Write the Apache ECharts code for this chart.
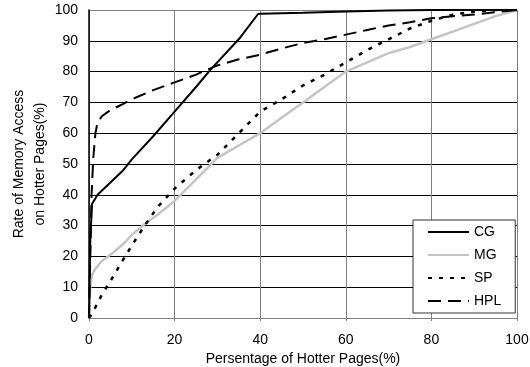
<!DOCTYPE html>
<html>
<head>
<meta charset="utf-8">
<script src="https://cdn.jsdelivr.net/npm/echarts@6/dist/echarts.min.js"></script>
<style>
  html, body { margin: 0; padding: 0; background: #fff; }
  #chart { width: 530px; height: 367px; }
</style>
</head>
<body>
<div id="chart"></div>
<script>
// values (x = % of hotter pages, y = % of memory access)
const cgX = [0, 0.3, 0.7, 2, 5, 8, 10, 15, 20, 25, 28.3, 35.3, 39.5, 40, 50, 60, 70, 80, 100]
const cgY = [0, 25, 37, 40, 44, 48, 51.5, 59, 67, 75, 80.5, 91, 98.7, 98.8, 99.1, 99.5, 99.8, 100, 100]

const mgX = [0, 0.3, 0.7, 1.5, 3, 5, 8, 10, 13, 16, 20, 25, 30, 35, 40, 45, 50, 55, 60, 65, 70, 75, 80, 85, 90, 95, 100]
const mgY = [0, 10, 14, 16, 18.5, 20.5, 24, 27, 30.5, 33.5, 38, 45, 52, 56, 60, 65, 70, 75, 80, 83, 86, 88, 90.5, 93, 95.5, 98, 100]

const spX = [0, 1, 2, 3, 5, 8, 10, 13, 16, 20, 25, 30, 35, 40, 45, 50, 55, 60, 65, 70, 75, 80, 85, 90, 95, 100]
const spY = [0, 2, 5, 7.5, 12, 19, 23.5, 30, 36, 42, 48, 53, 60, 67, 71, 75.5, 79, 83, 87, 90.5, 94, 96.5, 98.5, 99.5, 100, 100]

const hplX = [0, 0.3, 0.6, 1, 1.5, 2, 3, 5, 8, 10, 15, 20, 25, 30, 35, 40, 45, 50, 55, 60, 65, 70, 75, 80, 85, 90, 95, 100]
const hplY = [0, 20, 40, 52, 60, 63.5, 65.5, 67.5, 69.5, 71, 74, 76.5, 79, 82, 84, 85.5, 87.5, 89.3, 90.5, 92, 93.5, 95, 96, 97.3, 98, 98.5, 99.3, 100]

const xTicks = [0, 20, 40, 60, 80, 100]
const yTicks = [0, 10, 20, 30, 40, 50, 60, 70, 80, 90, 100]

const pairs = (xs, ys) => xs.map((x, i) => [x, ys[i]])
const font = 'Liberation Sans'

const chart = echarts.init(document.getElementById('chart'))
const option = {
  animation: false,
  backgroundColor: '#fff',
  textStyle: { fontFamily: font, color: '#000' },
  grid: { left: 89, right: 13, top: 10, bottom: 49, outerBoundsMode: 'none' },
  legend: {
    orient: 'vertical',
    left: 413,
    top: 220,
    padding: [5, 14, 5, 14],
    itemWidth: 41,
    itemHeight: 14,
    itemGap: 9,
    backgroundColor: '#fff',
    borderColor: '#333',
    borderWidth: 1,
    borderRadius: 0,
    // hide the symbol the legend puts on line icons, keep the line itself
    itemStyle: { color: 'rgba(0,0,0,0)', borderColor: 'rgba(0,0,0,0)', borderWidth: 0 },
    textStyle: { fontSize: 14, color: '#000', fontFamily: font },
    data: ['CG', 'MG', 'SP', 'HPL']
  },
  xAxis: {
    type: 'value',
    min: 0,
    max: 100,
    interval: 20,
    name: 'Persentage of Hotter Pages(%)',
    nameLocation: 'middle',
    nameGap: 34,
    nameMoveOverlap: false,
    nameTextStyle: { fontSize: 14, color: '#000' },
    axisLine: { lineStyle: { color: '#808080', width: 1 } },
    axisTick: { show: true, length: 3, inside: false, lineStyle: { color: '#808080' } },
    axisLabel: { fontSize: 14, color: '#000', margin: 15,
      formatter: v => xTicks.includes(v) ? String(v) : '' },
    splitLine: { show: true, lineStyle: { color: '#808080', width: 1 } }
  },
  yAxis: {
    type: 'value',
    min: 0,
    max: 100,
    interval: 10,
    name: 'Rate of Memory Access\non Hotter Pages(%)',
    nameLocation: 'middle',
    nameRotate: 90,
    nameGap: 38,
    nameMoveOverlap: false,
    nameTextStyle: { fontSize: 14, color: '#000', lineHeight: 21 },
    axisLine: { show: true, lineStyle: { color: '#000', width: 1.5 } },
    axisTick: { show: false },
    axisLabel: { fontSize: 14, color: '#000', margin: 11,
      formatter: v => yTicks.includes(v) ? String(v) : '' },
    splitLine: {
      show: true,
      lineStyle: {
        color: ['#808080', '#000', '#000', '#000', '#000', '#000', '#000', '#000', '#000', '#000', '#808080'],
        width: 1
      }
    }
  },
  series: [
    {
      name: 'CG', type: 'line', symbol: 'none', z: 4,
      lineStyle: { color: '#000', width: 2 },
      itemStyle: { color: '#000' },
      data: pairs(cgX, cgY)
    },
    {
      name: 'MG', type: 'line', symbol: 'none', z: 2,
      lineStyle: { color: '#c4c4c4', width: 2.5 },
      itemStyle: { color: '#c4c4c4' },
      data: pairs(mgX, mgY)
    },
    {
      name: 'SP', type: 'line', symbol: 'none', z: 3,
      lineStyle: { color: '#000', width: 2.5, type: [4, 7] },
      itemStyle: { color: '#000' },
      data: pairs(spX, spY)
    },
    {
      name: 'HPL', type: 'line', symbol: 'none', z: 3,
      lineStyle: { color: '#000', width: 2, type: [13, 7] },
      itemStyle: { color: '#000' },
      data: pairs(hplX, hplY)
    }
  ]
}

chart.setOption(option)
window.addEventListener('resize', () => {
  chart.resize()
})
</script>
</body>
</html>
